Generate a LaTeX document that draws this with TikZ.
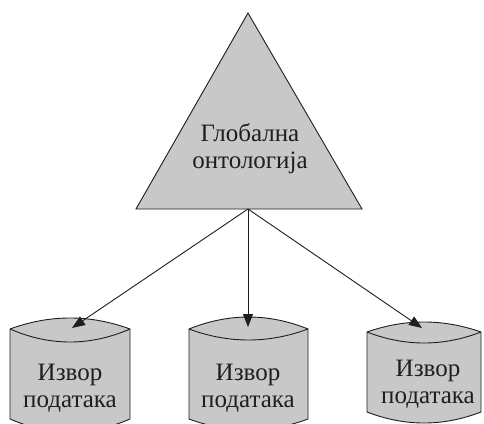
\documentclass[tikz,border=0pt]{standalone}
\usepackage{fontspec}
\setmainfont{Liberation Serif}
\usetikzlibrary{arrows.meta}
\definecolor{shade}{RGB}{200,200,200}
\definecolor{ink}{RGB}{30,30,30}

% Data-store drum: #1 name, #2 left x, #3 right x, #4 top corner y,
% #5 bottom corner y, #6 top bulge, #7 bottom sag
\newcommand\datastore[7]{%
  \pgfmathsetmacro\dsA{#2+(#3-#2)/3}%
  \pgfmathsetmacro\dsB{#3-(#3-#2)/3}%
  \pgfmathsetmacro\dsC{(#2+#3)/2}%
  \path[shapeline]
    (#2,#4) .. controls (\dsA,#4-4/3*#6) and (\dsB,#4-4/3*#6) .. (#3,#4)
    -- (#3,#5) .. controls (\dsB,#5+4/3*#7) and (\dsA,#5+4/3*#7) .. (#2,#5)
    -- cycle;
  \draw[rimline]
    (#2,#4) .. controls (\dsA,#4+4/3*#7) and (\dsB,#4+4/3*#7) .. (#3,#4);
}

\begin{document}
\begin{tikzpicture}[x=1pt,y=-1pt,
  shapeline/.style={draw=ink, line width=0.9pt, fill=shade, line join=miter},
  rimline/.style={draw=ink, line width=0.9pt},
  link/.style={draw=ink, line width=0.9pt, -{Triangle[length=13pt,width=10pt]}},
  caption/.style={font=\fontsize{25}{27}\selectfont, align=center, inner sep=0pt, text=ink}]
\useasboundingbox (0,0) rectangle (484,423);

% global ontology
\draw[shapeline] (248,13) -- (362,209) -- (136,209) -- cycle;
\coordinate (gbase) at (248,209);
\node[caption] (global) at (250,149) {Глобална\\онтологија};

% data sources
\datastore{src1}{10}{130}{329}{419}{11}{13}
\datastore{src2}{189}{308}{329}{419}{12}{11}
\datastore{src3}{367}{481}{332}{412}{10}{11}

\node[caption] (src1) at (70,388) {Извор\\података};
\node[caption] (src2) at (248,388) {Извор\\података};
\node[caption] (src3) at (428,384) {Извор\\података};

\coordinate (in1) at (72,328);
\coordinate (in2) at (248,327);
\coordinate (in3) at (422,328);

\draw[link] (gbase) -- (in1);
\draw[link] (gbase) -- (in2);
\draw[link] (gbase) -- (in3);
\end{tikzpicture}
\end{document}
